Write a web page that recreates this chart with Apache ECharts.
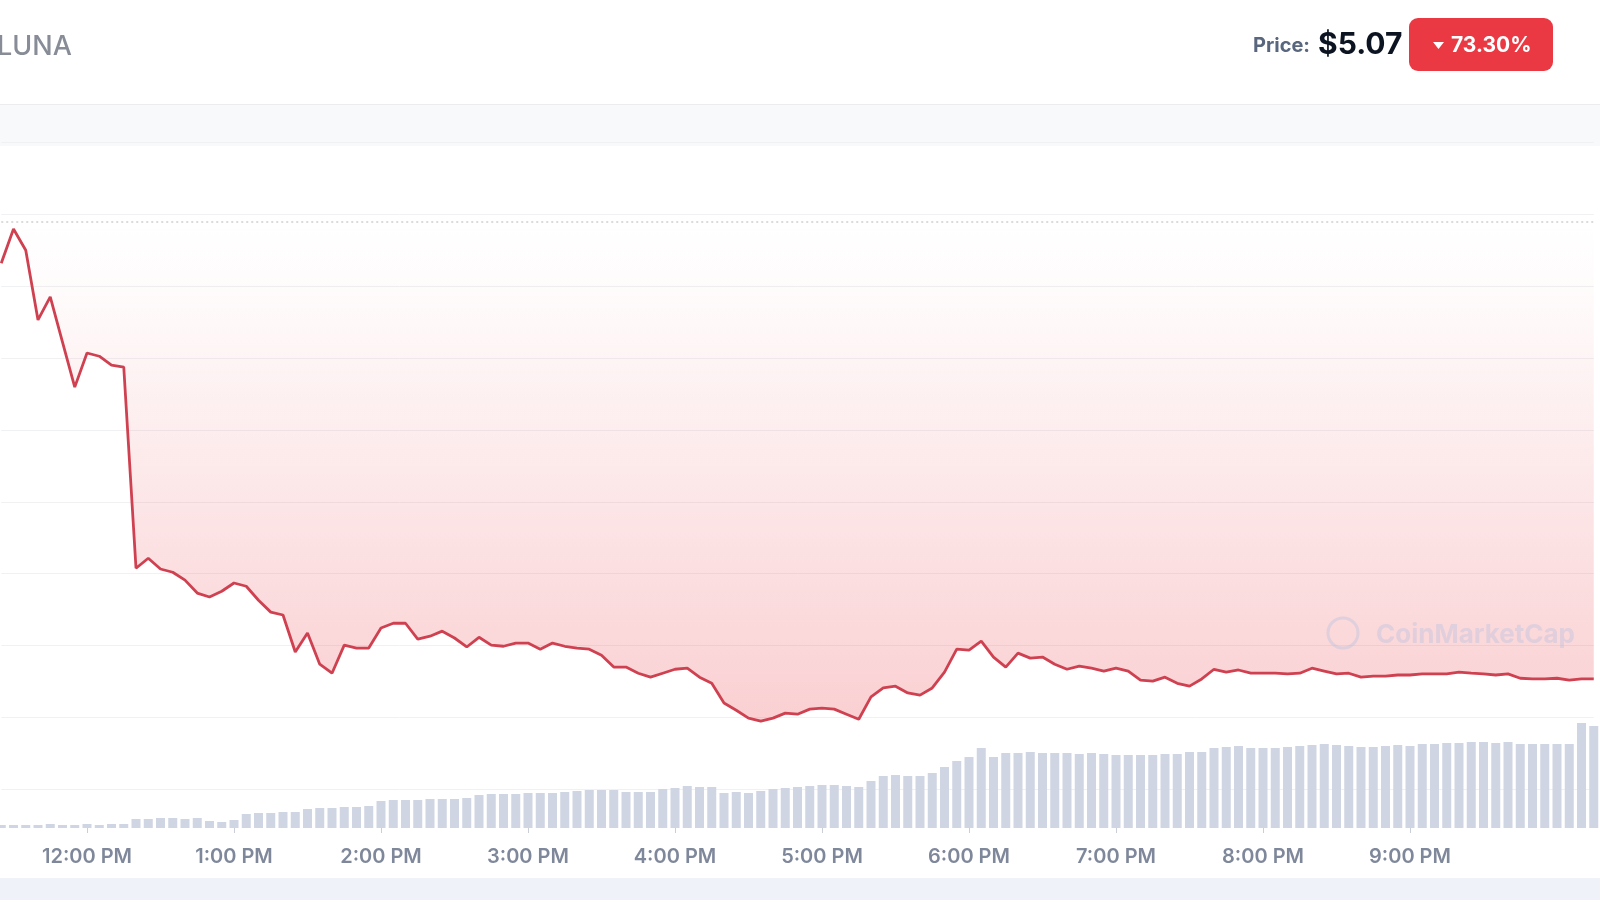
<!DOCTYPE html>
<html>
<head>
<meta charset="utf-8">
<style>
  html, body { margin: 0; padding: 0; background: #ffffff; }
  #chart { width: 1600px; height: 900px; }
</style>
<script src="https://cdn.jsdelivr.net/npm/echarts@6/dist/echarts.min.js"></script>
</head>
<body>
<div id="chart"></div>
<script>
// ---- data ----
const startTime = '11:25';          // first 5-minute slot
const stepMinutes = 5;
const tickTimes  = ['12:00','13:00','14:00','15:00','16:00','17:00','18:00','19:00','20:00','21:00'];
const tickLabels = ['12:00 PM','1:00 PM','2:00 PM','3:00 PM','4:00 PM','5:00 PM','6:00 PM','7:00 PM','8:00 PM','9:00 PM'];

const price = [
  16.64,17.59,17.00,15.06,15.70,14.44,13.19,14.14,14.05,13.80,
  13.75, 8.15, 8.43, 8.13, 8.04, 7.82, 7.46, 7.35, 7.51, 7.74,
   7.65, 7.26, 6.93, 6.85, 5.82, 6.35, 5.48, 5.23, 6.01, 5.93,
   5.93, 6.49, 6.62, 6.62, 6.18, 6.26, 6.40, 6.21, 5.96, 6.23,
   6.01, 5.98, 6.07, 6.07, 5.90, 6.07, 5.98, 5.93, 5.90, 5.73,
   5.40, 5.40, 5.23, 5.12, 5.23, 5.34, 5.37, 5.12, 4.95, 4.40,
   4.20, 3.98, 3.90, 3.98, 4.12, 4.09, 4.23, 4.26, 4.23, 4.09,
   3.95, 4.57, 4.82, 4.87, 4.68, 4.62, 4.82, 5.26, 5.90, 5.87,
   6.12, 5.68, 5.40, 5.79, 5.65, 5.68, 5.48, 5.34, 5.43, 5.37,
   5.29, 5.37, 5.29, 5.04, 5.01, 5.12, 4.95, 4.87, 5.07, 5.34,
   5.26, 5.32, 5.23, 5.23, 5.23, 5.21, 5.23, 5.37, 5.29, 5.21,
   5.23, 5.12, 5.15, 5.15, 5.18, 5.18, 5.21, 5.21, 5.21, 5.26,
   5.23, 5.21, 5.18, 5.21, 5.09, 5.07, 5.07, 5.09, 5.04, 5.07,
   5.07
];

const volume = [
  0.3,0.3,0.3,0.3,0.4,0.3,0.3,0.4,0.3,0.4,
  0.4,0.9,0.9,1.0,1.0,0.9,1.0,0.7,0.6,0.8,
  1.4,1.5,1.5,1.6,1.6,1.9,2.0,2.0,2.1,2.1,
  2.2,2.7,2.8,2.8,2.8,2.9,2.9,2.9,3.0,3.3,
  3.4,3.4,3.4,3.5,3.5,3.5,3.6,3.7,3.8,3.8,
  3.8,3.6,3.6,3.6,3.9,4.0,4.2,4.1,4.1,3.5,
  3.6,3.5,3.7,3.9,4.0,4.1,4.2,4.3,4.3,4.2,
  4.1,4.7,5.2,5.3,5.2,5.2,5.5,6.1,6.7,7.1,
  8.0,7.1,7.5,7.5,7.6,7.5,7.5,7.5,7.4,7.5,
  7.4,7.3,7.3,7.3,7.3,7.4,7.4,7.6,7.6,8.0,
  8.1,8.2,8.0,8.0,8.0,8.1,8.2,8.3,8.4,8.3,
  8.2,8.1,8.1,8.2,8.3,8.2,8.4,8.4,8.5,8.5,
  8.6,8.6,8.5,8.6,8.4,8.4,8.4,8.4,8.4,10.5,
  10.2
];

const openPrice = 17.8;   // dotted reference line
const currentPrice = '$5.07';
const changeText = '73.30%';
const symbolName = 'LUNA';

// ---- build categories (5-minute timestamps) ----
const categories = [];
{
  const [h0, m0] = startTime.split(':').map(Number);
  for (let i = 0; i < price.length; i++) {
    const t = h0 * 60 + m0 + i * stepMinutes;
    const hh = Math.floor(t / 60), mm = t % 60;
    categories.push(String(hh).padStart(2, '0') + ':' + String(mm).padStart(2, '0'));
  }
}
const isTick = (idx, val) => tickTimes.indexOf(val) >= 0;

const chart = echarts.init(document.getElementById('chart'), null, { renderer: 'canvas' });

const font = 'Inter, "Noto Sans", sans-serif';

chart.setOption({
  animation: false,
  backgroundColor: '#ffffff',
  grid: [
    { left: 1.25, right: 6.25, top: 142.4, bottom: 110.7 },
    { left: 1.25, right: 6.25, top: 628, bottom: 72 }
  ],
  xAxis: [
    {
      type: 'category', gridIndex: 0, data: categories, boundaryGap: false,
      axisLine: { show: false }, axisTick: { show: false }, axisLabel: { show: false },
      splitLine: { show: false }
    },
    {
      type: 'category', gridIndex: 1, data: categories, boundaryGap: false,
      axisLine: { show: false },
      axisTick: { show: true, interval: isTick, length: 5,
                  lineStyle: { color: '#c9ced8', width: 1 } },
      axisLabel: {
        show: true, interval: isTick, margin: 19,
        color: '#7f889b', fontSize: 20, fontWeight: 600, fontFamily: font,
        formatter: (v) => { const k = tickTimes.indexOf(v); return k >= 0 ? tickLabels[k] : ''; }
      },
      splitLine: { show: false }
    }
  ],
  yAxis: [
    {
      type: 'value', gridIndex: 0, min: 2, max: 20, interval: 2,
      axisLine: { show: false }, axisTick: { show: false }, axisLabel: { show: false },
      splitLine: { show: true, lineStyle: { color: '#f0f1f3', width: 1 } }
    },
    {
      type: 'value', gridIndex: 1, min: 0, max: 20,
      axisLine: { show: false }, axisTick: { show: false }, axisLabel: { show: false },
      splitLine: { show: false }
    }
  ],
  series: [
    {
      name: 'Volume', type: 'bar', xAxisIndex: 1, yAxisIndex: 1,
      data: volume, barWidth: 9,
      itemStyle: { color: '#cfd5e3' },
      z: 1
    },
    {
      name: 'Price', type: 'line', xAxisIndex: 0, yAxisIndex: 0,
      data: price, symbol: 'none', smooth: false,
      lineStyle: { color: '#cf4150', width: 2.8 },
      areaStyle: {
        origin: openPrice,
        color: new echarts.graphic.LinearGradient(0, 0, 0, 1, [
          { offset: 0, color: 'rgba(234,57,67,0.0)' },
          { offset: 0.15, color: 'rgba(234,57,67,0.03)' },
          { offset: 1, color: 'rgba(234,57,67,0.34)' }
        ])
      },
      markLine: {
        silent: true, symbol: 'none', label: { show: false },
        lineStyle: { type: [2, 3], color: '#cfcfd3', width: 1.5 },
        data: [{ yAxis: openPrice }]
      },
      z: 3
    }
  ],
  graphic: [
    { type: 'rect', shape: { x: 0, y: 104, width: 1600, height: 42 },
      style: { fill: '#f8f9fa' }, z: -10, silent: true },
    { type: 'line', shape: { x1: 0, y1: 104.5, x2: 1600, y2: 104.5 },
      style: { stroke: '#ececee', lineWidth: 1 }, z: -9, silent: true },
    { type: 'rect', shape: { x: 0, y: 878, width: 1600, height: 22 },
      style: { fill: '#eff2f8' }, z: -10, silent: true },
    { type: 'text', x: -3, y: 47,
      style: { text: symbolName, fill: '#878c96', font: '500 27px ' + font, verticalAlign: 'middle', align: 'left' } },
    { type: 'text', x: 1253, y: 46,
      style: { text: 'Price:', fill: '#58667e', font: '700 20px ' + font, verticalAlign: 'middle', align: 'left' } },
    { type: 'text', x: 1318, y: 45,
      style: { text: currentPrice, fill: '#0d1421', font: '700 30px ' + font, verticalAlign: 'middle', align: 'left' } },
    { type: 'rect', shape: { x: 1409, y: 18, width: 144, height: 53, r: 9 },
      style: { fill: '#ea3943' } },
    { type: 'polygon', shape: { points: [[1433, 42], [1444, 42], [1438.5, 49]] },
      style: { fill: '#ffffff' } },
    { type: 'text', x: 1451, y: 46,
      style: { text: changeText, fill: '#ffffff', font: '700 21px ' + font, verticalAlign: 'middle', align: 'left' } },
    { type: 'circle', shape: { cx: 1343, cy: 633, r: 15 },
      style: { fill: 'none', stroke: 'rgba(185,192,222,0.42)', lineWidth: 3 }, z: 5, silent: true },
    { type: 'text', x: 1376, y: 635,
      style: { text: 'CoinMarketCap', fill: 'rgba(185,192,222,0.40)', font: '700 26px ' + font, verticalAlign: 'middle', align: 'left' }, z: 5, silent: true }
  ]
});
</script>
</body>
</html>
